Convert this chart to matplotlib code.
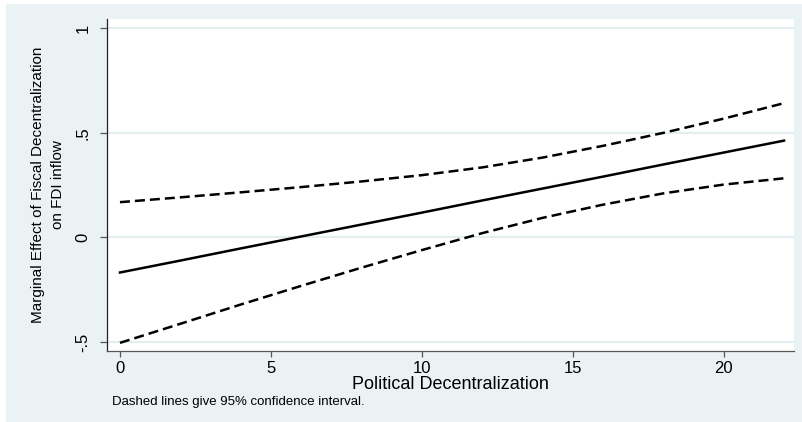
import matplotlib
matplotlib.use('Agg')
import matplotlib.pyplot as plt
from matplotlib.patches import Rectangle

# values
pol_decent = [0, 2, 4, 6, 8, 10, 12, 14, 16, 18, 20, 22]
marg_effect = [-0.168, -0.111, -0.053, 0.004, 0.061, 0.118, 0.176, 0.233, 0.290, 0.348, 0.405, 0.462]
ci_upper = [0.168, 0.191, 0.215, 0.240, 0.267, 0.297, 0.334, 0.381, 0.437, 0.499, 0.567, 0.641]
ci_lower = [-0.504, -0.413, -0.321, -0.232, -0.145, -0.061, 0.020, 0.093, 0.156, 0.210, 0.252, 0.282]

x_ticks = [0, 5, 10, 15, 20]
y_ticks = [-0.5, 0, 0.5, 1]
y_ticklabels = ['-.5', '0', '.5', '1']

bg = '#EAF2F3'
W, H = 803, 422

plt.rcParams['font.family'] = ['Liberation Sans', 'DejaVu Sans']

fig = plt.figure(figsize=(W / 100, H / 100), dpi=100, facecolor='white')
# stata style outer background, thin white strip at top and left
fig.add_artist(Rectangle((6 / W, 0), 1 - 6 / W, 1 - 4 / H, transform=fig.transFigure,
                         facecolor=bg, edgecolor='none', zorder=-10))

ax = fig.add_axes([107 / W, 1 - 351 / H, (794 - 107) / W, (351 - 19) / H])
ax.set_facecolor('white')

for yv in y_ticks:
    ax.axhline(yv, color='#E4EDEF', lw=1.5, zorder=1)

ax.plot(pol_decent, marg_effect, color='black', lw=1.8, zorder=3)
up, = ax.plot(pol_decent, ci_upper, color='black', lw=1.8, zorder=3)
lo, = ax.plot(pol_decent, ci_lower, color='black', lw=1.8, zorder=3)
up.set_dashes([4, 2])
lo.set_dashes([4, 2])

ax.set_xlim(-0.43, 22.33)
ax.set_ylim(-0.543, 1.043)

for s in ['top', 'right']:
    ax.spines[s].set_visible(False)
ax.spines['left'].set_color('#222222')
ax.spines['bottom'].set_color('#555555')
ax.spines['left'].set_linewidth(0.9)
ax.spines['bottom'].set_linewidth(0.9)

ax.set_xticks(x_ticks)
ax.set_xticklabels([str(v) for v in x_ticks])
ax.set_yticks(y_ticks)
ax.set_yticklabels(y_ticklabels, rotation=90, va='center')
ax.tick_params(axis='x', length=4, width=0.9, color='#555555', pad=3.5, labelsize=12)
ax.tick_params(axis='y', length=5, width=0.9, color='#555555', pad=7, labelsize=12)

fig.text(450 / W, 1 - 389 / H, 'Political Decentralization', ha='center', va='baseline', fontsize=13)
fig.text(48 / W, 1 - 185 / H, 'Marginal Effect of Fiscal Decentralization\non FDI inflow',
         rotation=90, ha='center', va='center', multialignment='center',
         fontsize=11, linespacing=1.5)
fig.text(112 / W, 1 - 405 / H, 'Dashed lines give 95% confidence interval.',
         ha='left', va='baseline', fontsize=9.5)

fig.savefig('out.png', dpi=100, facecolor=fig.get_facecolor())
